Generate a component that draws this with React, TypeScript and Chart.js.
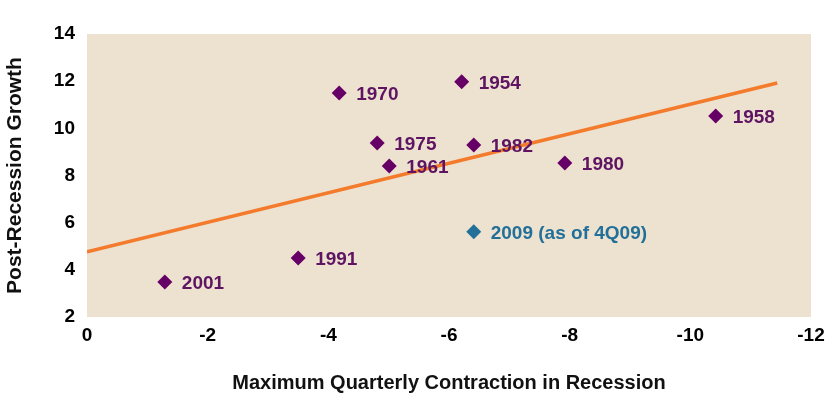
import React, { useEffect, useRef } from "react";
import { Chart, registerables } from "chart.js";

Chart.register(...registerables);

// Recessions: year label, maximum quarterly contraction, post-recession growth
const years = ["1954", "1958", "1961", "1970", "1975", "1980", "1982", "1991", "2001"];
const contraction = [-6.21, -10.42, -5.01, -4.18, -4.81, -7.92, -6.41, -3.5, -1.29];
const growth = [11.97, 10.52, 8.4, 11.5, 9.38, 8.53, 9.29, 4.5, 3.48];

// Current recession
const currentLabels = ["2009 (as of 4Q09)"];
const currentX = [-6.41];
const currentY = [5.62];

// Trend line end points
const trendX = [0, -11.44];
const trendY = [4.76, 11.92];

const xTitle = "Maximum Quarterly Contraction in Recession";
const yTitle = "Post-Recession Growth";

const PURPLE = "#660066";
const PURPLE_TEXT = "#5e1462";
const TEAL = "#22709a";
const ORANGE = "#f47a2c";
const BG = "#ece2cf";
const FONT = "'Liberation Sans', Arial, sans-serif";

const bgPlugin = {
  id: "areaBg",
  beforeDraw(chart: any) {
    const { ctx, chartArea } = chart;
    if (!chartArea) return;
    ctx.save();
    ctx.fillStyle = BG;
    ctx.fillRect(chartArea.left, chartArea.top, chartArea.right - chartArea.left, chartArea.bottom - chartArea.top);
    ctx.restore();
  },
};

const labelPlugin = {
  id: "pointLabels",
  afterDatasetsDraw(chart: any) {
    const { ctx } = chart;
    chart.data.datasets.forEach((ds: any, di: number) => {
      if (!ds.pointLabels) return;
      const meta = chart.getDatasetMeta(di);
      ctx.save();
      ctx.font = `bold 19px ${FONT}`;
      ctx.fillStyle = ds.labelColor;
      ctx.textAlign = "left";
      ctx.textBaseline = "middle";
      meta.data.forEach((pt: any, i: number) => {
        ctx.fillText(ds.pointLabels[i], pt.x + 17, pt.y + 2);
      });
      ctx.restore();
    });
  },
};

export default function App() {
  const ref = useRef<HTMLCanvasElement | null>(null);

  useEffect(() => {
    document.body.style.margin = "0";
    const canvas = ref.current;
    if (!canvas) return;
    const chart = new Chart(canvas, {
      type: "scatter",
      data: {
        datasets: [
          {
            type: "scatter",
            data: contraction.map((x, i) => ({ x, y: growth[i] })),
            pointStyle: "rectRot",
            pointRadius: 7.5,
            pointHoverRadius: 7.5,
            backgroundColor: PURPLE,
            borderColor: PURPLE,
            borderWidth: 0,
            pointLabels: years,
            labelColor: PURPLE_TEXT,
            order: 1,
          } as any,
          {
            type: "scatter",
            data: currentX.map((x, i) => ({ x, y: currentY[i] })),
            pointStyle: "rectRot",
            pointRadius: 7.5,
            pointHoverRadius: 7.5,
            backgroundColor: TEAL,
            borderColor: TEAL,
            borderWidth: 0,
            pointLabels: currentLabels,
            labelColor: TEAL,
            order: 1,
          } as any,
          {
            type: "line",
            data: trendX.map((x, i) => ({ x, y: trendY[i] })),
            borderColor: ORANGE,
            borderWidth: 3.5,
            pointRadius: 0,
            fill: false,
            showLine: true,
            order: 2,
          } as any,
        ],
      },
      options: {
        responsive: false,
        animation: false,
        layout: { padding: { top: 34, right: 23, left: 0, bottom: 0 } },
        plugins: {
          legend: { display: false },
          tooltip: { enabled: false },
        },
        scales: {
          x: {
            type: "linear",
            min: -12,
            max: 0,
            reverse: true,
            grid: { display: false, drawTicks: false },
            border: { display: false },
            ticks: {
              stepSize: 2,
              padding: 7,
              color: "#000",
              font: { family: FONT, size: 19, weight: "bold" },
            },
            title: {
              display: true,
              text: xTitle,
              color: "#111",
              font: { family: FONT, size: 20, weight: "bold" },
              padding: { top: 20, bottom: 6 },
            },
            afterFit: (scale: any) => {
              scale.height = 84;
            },
          },
          y: {
            type: "linear",
            min: 2,
            max: 14,
            grid: { display: false, drawTicks: false },
            border: { display: false },
            ticks: {
              stepSize: 2,
              padding: 12,
              color: "#000",
              font: { family: FONT, size: 19, weight: "bold" },
            },
            title: {
              display: true,
              text: yTitle,
              color: "#111",
              font: { family: FONT, size: 21, weight: "bold" },
              padding: { top: 3, bottom: 10 },
            },
            afterFit: (scale: any) => {
              scale.width = 87;
            },
          },
        },
      } as any,
      plugins: [bgPlugin, labelPlugin],
    });
    return () => chart.destroy();
  }, []);

  return (
    <div style={{ width: 834, height: 401, background: "#fff" }}>
      <canvas ref={ref} width={834} height={401} style={{ display: "block" }} />
    </div>
  );
}
